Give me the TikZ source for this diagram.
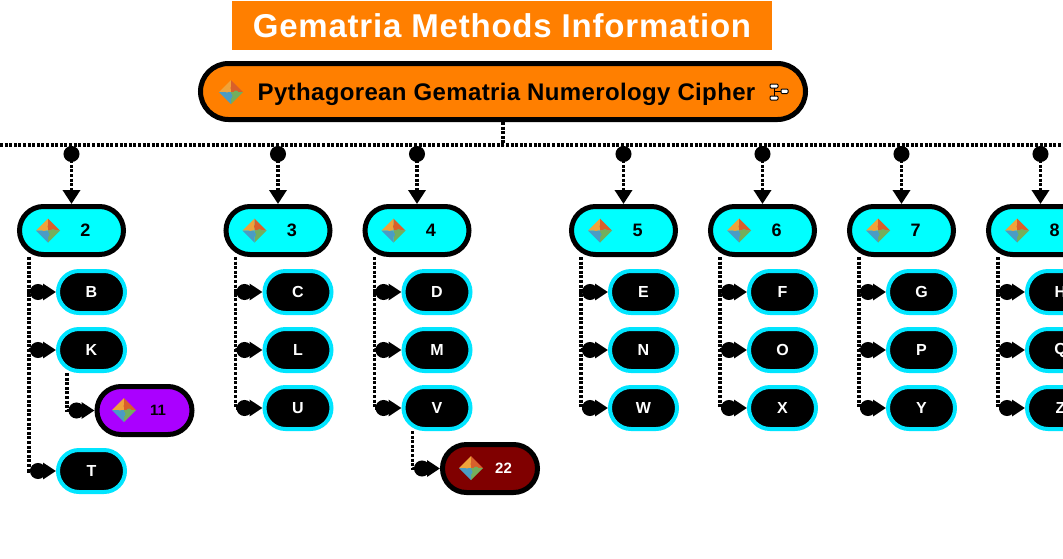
\documentclass[tikz,border=0pt]{standalone}
\usepackage{fontspec}
\setmainfont{Liberation Sans}
\usetikzlibrary{arrows.meta,positioning,calc}
\definecolor{titleorange}{HTML}{FF7F00}
\definecolor{groupcyan}{HTML}{00FFFF}
\definecolor{leafcyan}{HTML}{00E5FF}
\definecolor{deepviolet}{HTML}{AA00FF}
\definecolor{darkred}{HTML}{800000}
\definecolor{pieceorange}{HTML}{EFA33A}
\definecolor{piecered}{HTML}{D8602B}
\definecolor{piecegreen}{HTML}{74AE5C}
\definecolor{pieceblue}{HTML}{4A9CC4}
\tikzset{
titlebox/.style= {rectangle,fill=titleorange,text=white,font=\bfseries\fontsize{33}{36}\selectfont\addfontfeature{LetterSpace=2.4},minimum width=540pt,minimum height=49pt,text height=24pt,text depth=0pt},
rootbox/.style= {rectangle,rounded corners=28pt,draw=black,line width=5pt,fill=titleorange,font=\bfseries\fontsize{24}{28}\selectfont\addfontfeature{LetterSpace=1.5},minimum width=605pt,minimum height=56pt,text height=20pt,text depth=3pt},
groupbox/.style= {rectangle,rounded corners=24pt,draw=black,line width=5pt,fill=groupcyan,font=\bfseries\fontsize{18}{20}\selectfont,minimum width=104pt,minimum height=48pt},
leafbox/.style= {rectangle,rounded corners=21pt,draw=leafcyan,line width=4pt,fill=black,text=white,font=\bfseries\fontsize{16}{18}\selectfont,minimum width=67pt,minimum height=42pt},
extrabox/.style= {rectangle,rounded corners=24pt,draw=black,line width=5pt,font=\bfseries\fontsize{15}{18}\selectfont,minimum width=95pt,minimum height=48pt},
dotline/.style= {line width=3.5pt,dash pattern=on 3pt off 1.6pt},
droplink/.style= {dotline,{Circle[length=16pt,width=16pt]}-{Triangle[length=14pt,width=17pt]}},
leaflink/.style= {dotline,-{Circle[length=16pt,width=16pt,sep=-3pt]Triangle[length=13pt,width=16pt]}},
puzzle/.pic= {
  \fill[pieceorange] (0,0) -- (-12,0) -- (0,-12) -- cycle;
  \fill[piecered] (0,0) -- (0,-12) -- (12,0) -- cycle;
  \fill[piecegreen] (0,0) -- (12,0) -- (0,12) -- cycle;
  \fill[pieceblue] (0,0) -- (0,12) -- (-12,0) -- cycle;
  \fill[pieceorange] (-4,-2) circle (2.5);
  \fill[piecered] (2,-4) circle (2.5);
  \fill[piecegreen] (5,1) circle (2.5);
  \fill[pieceblue] (-1,4) circle (2.5);
},
treeglyph/.pic= {
  \draw[line width=1pt] (4,4) -- (4,12) (4,7.5) -- (11,7.5);
  \draw[line width=1pt,fill=white,rounded corners=1pt] (0,0) rectangle (8,4) (0,12) rectangle (8,16) (11,5) rectangle (18,9.5);
}
}

\begin{document}
\begin{tikzpicture}[x=1pt,y=-1pt]
\useasboundingbox (0,0) rectangle (1063,558);
\clip (0,0) rectangle (1063,558);

% the heading and the root
\node[titlebox] (title) at (502,25.5) {Gematria Methods Information};
\node[rootbox] (root) at (503,91.5) {\hspace*{7pt}Pythagorean Gematria Numerology Cipher};
\pic at (231,92) {puzzle};
\pic at (770,84) {treeglyph};

% the long line under the root
\coordinate (busl) at (0,145);
\coordinate (busr) at (1063,145);
\draw[dotline] (busl) -- (busr);
\draw[dotline] (root.south) -- (root.south |- busl);

% the number nodes with their letters below
\foreach \n/\xx/\aa/\bb/\cc in {2/71.5/B/K/T,3/278/C/L/U,4/417/D/M/V,5/623.5/E/N/W,6/762.5/F/O/X,7/901.5/G/P/Y,8/1040.5/H/Q/Z}{
  \node[groupbox] (c\n) at (\xx,230.5) {\hspace*{28pt}\n};
  \pic at ($(c\n.center)+(-23.5,0)$) {puzzle};
  \coordinate (t\n) at (\xx,146);
  \draw[droplink] (t\n) -- (c\n.north);
  \node[leafbox] (c\n1) at (\xx+20,292) {\aa};
  \node[leafbox,below=12pt of c\n1] (c\n2) {\bb};
  \ifnum\n=2
    \node[leafbox,below=75pt of c\n2] (c\n3) {\cc};
  \else
    \node[leafbox,below=12pt of c\n2] (c\n3) {\cc};
  \fi
  \foreach \value in {1,2,3}
    \draw[leaflink] ([xshift=12pt]c\n.south west) |- (c\n\value.west);
}

% the two master numbers
\node[extrabox,fill=deepviolet] (c221) at (144.5,410.5) {\hspace*{27pt}11};
\pic at (124,410) {puzzle};
\draw[leaflink] ([xshift=11pt]c22.south west) |- (c221.west);

\node[extrabox,fill=darkred,text=white] (c431) at (490,468.5) {\hspace*{27pt}22};
\pic at (471,468) {puzzle};
\draw[leaflink] ([xshift=11pt]c43.south west) |- (c431.west);

\end{tikzpicture}
\end{document}
